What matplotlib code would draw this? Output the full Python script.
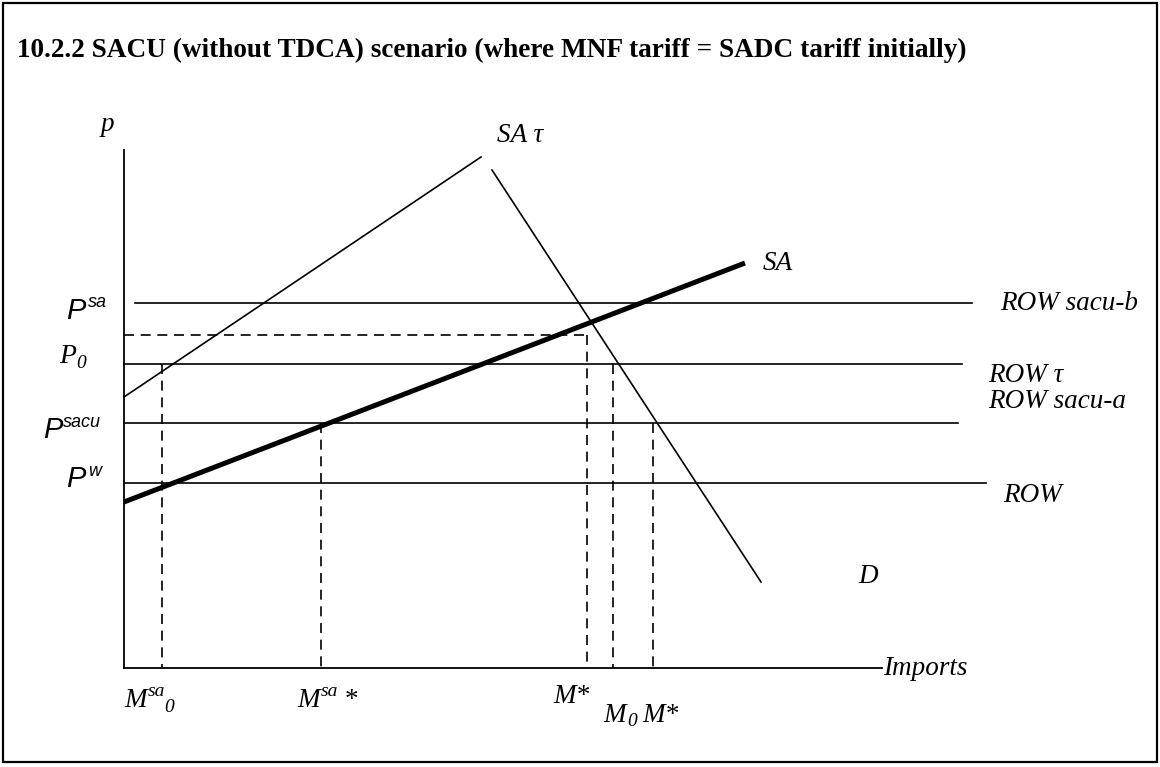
import matplotlib
matplotlib.use("Agg")
import matplotlib.pyplot as plt
from matplotlib.patches import Rectangle

# ---------------- diagram data (image-pixel frame: x right, y down) ----------------
title_text = "10.2.2 SACU (without TDCA) scenario (where MNF tariff = SADC tariff initially)"

# horizontal price lines (ROW supply schedules)
row_names = ["ROW sacu-b", "ROW τ", "ROW sacu-a", "ROW"]
row_y = [303, 364, 423, 483]
row_x0 = [135, 124, 124, 124]
row_x1 = [972, 962, 958, 986]

# SA supply (thick), SA tau supply, demand D
sa_x = [124, 745]
sa_y = [502, 263]
satau_x = [124, 481]
satau_y = [397, 157]
d_x = [492, 761]
d_y = [170, 582]

# dashed guides
dash_h_x = [124, 586]
dash_h_y = [335, 335]
dash_v_x = [162, 321, 587, 613, 653]
dash_v_top = [364, 423, 335, 364, 423]
axis_origin = (124, 668)
axis_ytop = 150
axis_xend = 882

# ---------------- figure ----------------
fig = plt.figure(figsize=(11.6, 7.67), dpi=100)
ax = fig.add_axes([0, 0, 1, 1])
ax.set_xlim(0, 1160)
ax.set_ylim(767, 0)
ax.axis("off")

ax.add_patch(Rectangle((3, 3), 1154, 759, fill=False, lw=1.6, ec="black"))

SERIF = "Liberation Serif"
SANS = "Liberation Sans"

# title
ax.text(17, 57, title_text, family=SERIF, weight="bold", fontsize=19.6,
        ha="left", va="baseline")

# axes
ax.plot([axis_origin[0], axis_origin[0]], [axis_ytop, axis_origin[1]], color="black", lw=1.3)
ax.plot([axis_origin[0], axis_xend], [axis_origin[1], axis_origin[1]], color="black", lw=1.3)

# ROW lines
for x0, x1, y in zip(row_x0, row_x1, row_y):
    ax.plot([x0, x1], [y, y], color="black", lw=1.2)

# curves
ax.plot(sa_x, sa_y, color="black", lw=3.6, solid_capstyle="butt")
ax.plot(satau_x, satau_y, color="black", lw=1.2)
ax.plot(d_x, d_y, color="black", lw=1.2)

# dashed guides
ax.plot(dash_h_x, dash_h_y, color="black", lw=1.2, dashes=(6, 4))
for x, yt in zip(dash_v_x, dash_v_top):
    ax.plot([x, x], [yt, axis_origin[1]], color="black", lw=1.2, dashes=(6, 4))

# ---------------- labels ----------------
def t(x, y, s, size=19.5, fam=SERIF, style="italic"):
    ax.text(x, y, s, family=fam, style=style, fontsize=size, ha="left", va="baseline")

t(101, 131, "p")
t(497, 142, "SA τ")
t(763, 270, "SA")
t(1000, 310, row_names[0])
t(988, 382, row_names[1])
t(988, 408, row_names[2])
t(1003, 502, row_names[3])
t(858, 583, "D")
t(883, 675, "Imports")

# y-axis price labels
t(66, 319, "P", 21, SANS)
t(88, 307, "sa", 13, SANS)
t(59, 363, "P", 20)
t(76, 368, "0", 14)
t(43, 438, "P", 21, SANS)
t(63, 427, "sacu", 13, SANS)
t(66, 487, "P", 21, SANS)
t(88, 476, "w", 13, SANS)

# x-axis quantity labels
t(124, 707, "M", 19.5)
t(148, 696, "sa", 14)
t(164, 712, "0", 14)
t(297, 707, "M", 19.5)
t(321, 696, "sa", 14)
t(345, 707, "*", 19.5, style="normal")
t(553, 703, "M*", 19.5)
t(603, 722, "M", 19.5)
t(627, 726, "0", 14)
t(642, 722, "M*", 19.5)

fig.savefig("out.png", dpi=100)
